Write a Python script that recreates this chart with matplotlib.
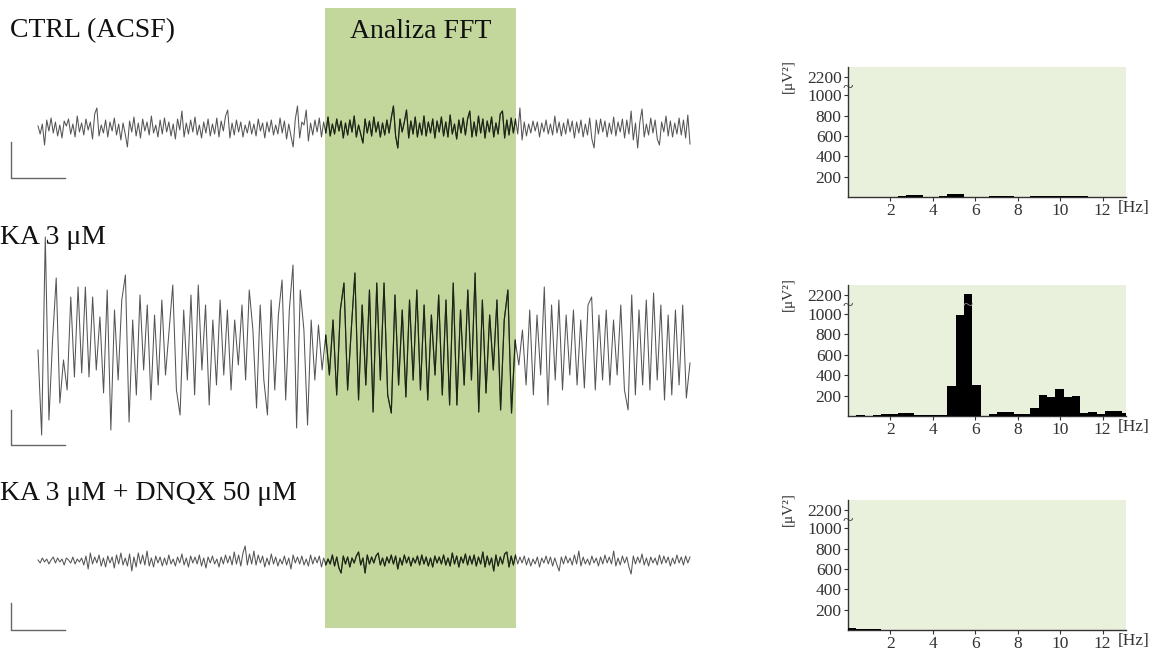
import numpy as np
import matplotlib
matplotlib.use("Agg")
import matplotlib.pyplot as plt
from matplotlib.patches import Rectangle
from matplotlib import transforms

plt.rcParams['font.family'] = ['Liberation Serif', 'DejaVu Serif']

# Labels of the three recordings
labels = ["CTRL (ACSF)", "KA 3 \u03bcM", "KA 3 \u03bcM + DNQX 50 \u03bcM"]

# Traces (amplitude, arbitrary units)
trace_ctrl = [
    2, -6, 4, -17, 8, -3, 10, -5, 6, -8, 3, -10, 7, 2, 9, -6, 4, -9, 12, -4,
    5, -7, 9, -2, 6, -11, 14, 20, -8, 3, -5, 8, -9, 6, -3, 10, -7, 4, -12, 5,
    -6, -19, 7, -4, 11, -8, 5, -10, 9, -3, 6, -7, 12, -5, 3, -9, 8, -6, 10, -4,
    6, -8, 4, -11, 9, -2, 17, -9, 5, -6, 8, -4, 11, -7, 3, -10, 6, -5, 9, -8,
    4, -6, 10, -9, 7, -3, 12, 18, -10, 5, -7, 8, -4, 6, -9, 3, -5, 7, -6, 4,
    -8, 9, -3, 5, -10, 6, -4, 8, -7, 3, -6, 10, -5, 7, -11, 4, -8, -19, 9, 22,
    -10, 6, 3, 18, -13, 5, -7, 8, -4, 10, -9, 6, -5, 11, -8, 4, -6, 9, -3, 7,
    -10, 5, -7, 8, -4, 12, -9, 3, -6, -15, 9, -5, 7, -8, 11, -4, 6, -9, 5, -7,
    8, -5, 10, 22, -8, -20, 9, -4, 6, 18, -10, 7, -6, 11, -9, 5, -7, 12, -8, 6,
    -5, 9, -10, 7, -4, 11, -8, 6, -9, 13, -6, 4, -11, 8, -5, 10, -7, 9, 17, -9,
    6, -8, 12, -5, 9, -10, 7, -4, 11, -9, 5, -6, 14, 17, -10, 8, -7, 10, -5, 9,
    -6, 20, -12, 6, -8, 4, -5, 7, -3, 6, -9, 5, -4, 8, -6, 4, -7, 12, -5, 6,
    -8, 5, -6, 9, -4, 7, -10, 6, -5, 8, -9, 4, -7, 10, -11, -20, 8, -6, 9, -4,
    7, -9, 5, -6, 11, -8, 6, -4, 9, -10, 8, -6, 17, -12, 5, -20, 6, 19, -9, 4,
    -7, 10, -5, 8, -11, -17, 6, -4, 12, -8, 7, -9, 5, -6, 10, -7, 8, -10, 13, -16,
]

trace_ka = [
    0, -85, 113, -70, 10, 72, -53, -10, -40, 53, -27, 63, -23, 63, -27, 53, -20, 33, -43, 60,
    -80, 40, -30, 50, 75, -72, 30, -45, 55, -20, 45, -50, 35, -35, 50, -25, 20, 65, -40, -65,
    40, -30, 55, -45, 65, -20, 45, -55, 30, -35, 50, -25, 40, -40, 30, -15, 45, -30, 60, 20,
    -58, 45, -30, -65, 50, -40, 35, 70, -50, 40, 85, -78, 60, 20, -75, 30, -30, 25, -20, 15,
    -25, 30, -45, 40, 67, -40, 20, 77, -50, 45, -35, 60, -62, 67, -30, 67, -45, -63, 55, -35,
    40, -47, 50, -30, 60, -40, 45, -50, 35, -25, 55, -45, 50, -55, 67, -55, 40, -35, 60, -30,
    77, -62, 50, -43, 35, -20, 50, -60, 30, 60, -63, 10, -15, 20, -35, 40, -45, 35, -25, 63,
    -55, 45, -30, 50, -40, 35, -25, 40, -35, 30, -38, 45, 53, -40, 35, -30, 40, -35, 30, -25,
    45, -40, -60, 55, -45, 40, -35, 50, -40, 57, -30, 45, -50, 35, -45, 40, -35, 45, -48, -13,
]

trace_dnqx = [
    1, -2, 3, -1, 2, -3, 1, 4, -2, 3, -1, 2, -4, 3, 1, -2, 4, -3, 2, -1,
    3, -4, 5, -8, 8, -3, 4, -2, 6, -5, 3, -6, 5, -2, 4, -7, 6, -3, 8, -4,
    3, -5, 7, -10, 4, -6, 8, -3, 6, -4, 10, -5, 3, -6, 5, -2, 4, -5, 3, -4,
    6, -3, 2, -5, 4, -2, 7, -4, 3, -6, 5, -2, 4, -3, 6, -5, 3, -7, 4, -2,
    5, -3, 2, -6, 4, -3, 6, -2, 5, -4, 9, -3, 6, -5, 8, 15, -4, 7, -3, 10,
    -4, 6, -2, 5, -6, 3, -4, 7, -3, 4, -5, 2, -3, 5, -4, 3, -8, 6, -2, 4,
    -3, 5, -4, 2, -5, 6, -3, 4, -2, 5, -6, 3, -4, 2, -3, 6, -5, 4, -7, -12,
    5, -3, 4, -6, 3, -2, 5, 9, -4, 3, -12, 6, -3, 4, -2, 5, 8, -4, 3, -5,
    4, -2, 6, -3, 5, -8, 3, -4, 6, -2, 4, -5, 3, -2, 5, -4, 6, -3, 4, -5,
    3, -6, 5, -2, 4, -3, 6, -4, 3, -5, 8, -3, 5, -6, 4, -2, 7, -4, 5, -3,
    6, -5, 4, -3, 9, -6, 5, -4, 3, -10, 6, -5, 4, -3, 7, 9, -6, 5, -4, 6,
    -3, 4, -2, 5, -4, 3, -5, 2, -3, 4, -6, 3, -2, 5, -3, 4, -5, 3, -4, -10,
    4, -3, 5, -2, 3, -4, 6, -3, 10, -5, 4, -3, 2, -4, 5, -2, 3, -5, 4, -3,
    6, -2, 4, -3, 10, -5, 3, -4, 5, -2, 4, -6, -13, 5, -3, 4, -2, 7, -4, 3,
    -5, 4, -2, 3, -4, 6, -3, 5, -2, 4, -5, 3, -3, 6, -2, 4, -4, 5, -2, 4,
]

# FFT power spectra [uV^2], bins of 0.390625 Hz starting at 0 Hz
bin_width = 0.390625
power_ctrl = [2, 2, 2, 3, 3, 4, 5, 15, 15, 4, 4, 5, 28, 28, 4, 3, 3, 5, 12, 12,
              4, 4, 5, 10, 10, 10, 10, 5, 10, 4, 3, 3, 2, 2]
power_ka = [3, 5, 3, 10, 15, 20, 33, 30, 10, 12, 12, 12, 293, 985, 2250, 300, 3, 20, 40, 35,
            20, 20, 75, 210, 185, 265, 190, 195, 30, 35, 15, 45, 45, 30]
power_dnqx = [20, 8, 8, 6, 4, 4, 3, 3, 3, 3, 3, 3, 3, 4, 4, 3, 3, 3, 3, 3,
              3, 3, 3, 3, 3, 3, 3, 3, 3, 3, 3, 3, 3, 3]
y_ticks = [200, 400, 600, 800, 1000, 2200]
x_ticks = [2, 4, 6, 8, 10, 12]

W, H = 1156, 651
fig = plt.figure(figsize=(W / 100, H / 100), dpi=100)

# left part drawn in pixel coordinates
ax = fig.add_axes([0, 0, 1, 1])
ax.set_xlim(0, W)
ax.set_ylim(H, 0)
ax.axis('off')

band = Rectangle((325, 8), 191, 620, facecolor='#c3d69b', edgecolor='none', zorder=1)
ax.add_patch(band)
ax.text(421, 31, "Analiza FFT", fontsize=20, ha='center', va='center', color='#111111', zorder=5)

traces = [trace_ctrl, trace_ka, trace_dnqx]
centers = [128, 350, 561]
label_pos = [(10, 31), (0, 237), (0, 493)]
bars = [(142, 178), (410, 445), (603, 630)]

for vals, c, (lx, ly), (b0, b1), lab in zip(traces, centers, label_pos, bars, labels):
    x = np.linspace(38, 690, len(vals))
    y = c - np.array(vals)
    ax.plot(x, y, color='#555555', lw=0.75, zorder=3)
    dark = ax.plot(x, y, color='#1c2614', lw=0.85, zorder=4)[0]
    dark.set_clip_path(band)
    ax.text(lx, ly, lab, fontsize=20, ha='left', va='center', color='#111111', zorder=5)
    # scale bar
    ax.plot([11, 11, 65], [b0, b1, b1], color='#666666', lw=1, zorder=3)

# broken y axis for the spectra
K = 0.154


def fwd(v):
    v = np.asarray(v, dtype=float)
    return np.where(v <= 1000, v, 1000 + (v - 1000) * K)


def inv(y):
    y = np.asarray(y, dtype=float)
    return np.where(y <= 1000, y, 1000 + (y - 1000) / K)


panels = [(848, 67, 197, power_ctrl), (848, 285, 416, power_ka), (848, 500, 630, power_dnqx)]
for left, top, bottom, pw in panels:
    sx = fig.add_axes([left / W, 1 - bottom / H, 278 / W, (bottom - top) / H])
    sx.set_facecolor('#e9f0dc')
    sx.set_yscale('function', functions=(fwd, inv))
    edges = np.arange(len(pw)) * bin_width
    sx.bar(edges, pw, width=bin_width, align='edge', color='black', zorder=3)
    sx.set_xlim(0, 13.1)
    sx.set_ylim(0, float(inv(1280)))
    sx.set_yticks(y_ticks)
    sx.set_yticklabels([str(t) for t in y_ticks])
    sx.set_xticks(x_ticks)
    sx.set_xticklabels([str(t) for t in x_ticks])
    sx.tick_params(labelsize=12.5, colors='#333333', length=3, width=0.8, pad=1.5)
    for s in ['top', 'right']:
        sx.spines[s].set_visible(False)
    for s in ['left', 'bottom']:
        sx.spines[s].set_color('#333333')
        sx.spines[s].set_linewidth(1)
    tr = transforms.blended_transform_factory(sx.transAxes, sx.transData)
    sx.text(0, 1420, "~", transform=tr, fontsize=14, ha='center', va='center', color='#333333', zorder=5)
    sx.text(12.72, -0.085, "[Hz]", transform=transforms.blended_transform_factory(sx.transData, sx.transAxes),
            fontsize=12.5, ha='left', va='center', color='#333333', clip_on=False)
    sx.text(-0.215, 0.93, "[\u03bcV\u00b2]", transform=sx.transAxes, rotation=90,
            fontsize=11, ha='center', va='center', color='#333333')
    if max(pw) > 1000:
        k = pw.index(max(pw))
        sx.text(edges[k] + bin_width / 2, 1420, "~", fontsize=14, ha='center', va='center',
                color='#999999', zorder=5)

fig.savefig("out.png", dpi=100)
